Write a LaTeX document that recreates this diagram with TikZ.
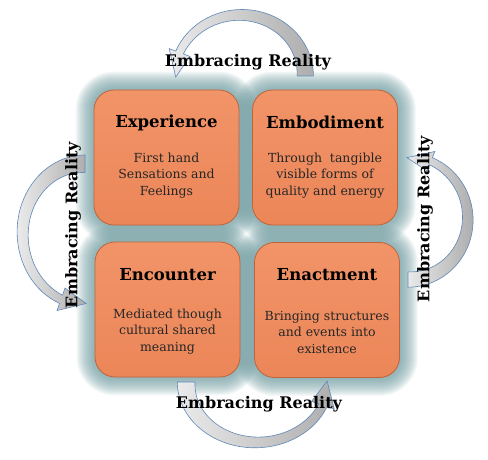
\documentclass[tikz,border=0pt]{standalone}
\usepackage{fontspec}
\setmainfont{DejaVu Serif}
\usetikzlibrary{backgrounds}
\definecolor{boxorange}{RGB}{236,134,88}
\definecolor{boxlight}{RGB}{241,148,104}
\definecolor{boxedge}{RGB}{190,100,60}
\definecolor{glowteal}{RGB}{112,158,162}
\definecolor{arrowline}{RGB}{95,135,185}

%curved block arrow, tail at angle 0, head at the far end
\newcommand{\realityarrow}[1]{%
\begin{scope}[#1]
\draw[arrowline, line width=0.6pt, left color=black!8, right color=black!32]
 (0:54pt) -- (0:70pt) arc[start angle=0, end angle=158, radius=70pt]
 -- (158:77pt) -- (181:65pt) -- (158:55pt) -- (158:62pt)
 -- plot[domain=158:0, samples=40] ({\x}:{54pt+8pt*\x/158}) -- cycle;
\end{scope}}

\tikzset{
 box/.style={draw=boxedge, line width=0.8pt, top color=boxlight, bottom color=boxorange,
  rounded corners=20pt, minimum width=145pt, minimum height=135pt, inner sep=0pt},
 boxtitle/.style={font=\bfseries\fontsize{16.5}{19}\selectfont, text=black},
 boxtext/.style={font=\fontsize{12.5}{16.5}\selectfont, align=center, text=black!85},
 reallabel/.style={font=\bfseries\fontsize{16}{18}\selectfont, text=black}
}

\begin{document}
\begin{tikzpicture}[x=1pt, y=1pt]
\useasboundingbox (0,0) rectangle (488,459);

%arrows round the square
\realityarrow{shift={(242,383)}, xscale=1.02, yscale=0.95}
\realityarrow{shift={(85,227)}, rotate=90, xscale=1.1, yscale=0.97}
\realityarrow{shift={(408,239)}, rotate=-90, xscale=0.96, yscale=0.93}
\realityarrow{shift={(255,77)}, rotate=180, xscale=1.11, yscale=0.94}

%the four boxes
\node[box] (exp) at (166.5,301.5) {};
\node[box] (emb) at (325,301.5) {};
\node[box] (enc) at (167.5,149.5) {};
\node[box] (ena) at (327,149) {};

\node[boxtitle] (exp-t) at ([yshift=-33pt]exp.north) {Experience};
\node[boxtitle] (emb-t) at ([yshift=-33pt]emb.north) {Embodiment};
\node[boxtitle] (enc-t) at ([yshift=-33pt]enc.north) {Encounter};
\node[boxtitle] (ena-t) at ([yshift=-33pt]ena.north) {Enactment};

\node[boxtext] (exp-b) at ([yshift=-86pt]exp.north) {First hand\\Sensations and\\Feelings};
\node[boxtext] (emb-b) at ([yshift=-86pt]emb.north) {Through~ tangible\\visible forms of\\quality and energy};
\node[boxtext] (enc-b) at ([yshift=-90pt]enc.north) {Mediated though\\cultural shared\\meaning};
\node[boxtext] (ena-b) at ([yshift=-90pt]ena.north) {Bringing structures\\and events into\\existence};

%labels
\node[reallabel] (lab-top) at (248,397) {Embracing Reality};
\node[reallabel] (lab-bot) at (259,55) {Embracing Reality};
\node[reallabel, rotate=90] (lab-left) at (73,234) {Embracing Reality};
\node[reallabel, rotate=90] (lab-right) at (425,240) {Embracing Reality};

%glow behind the boxes
\begin{pgfonlayer}{background}
\fill[white] (0,0) rectangle (488,459);
\foreach \b in {exp,emb,enc,ena}{
 \foreach \k in {1,...,18}{
  \pgfmathsetmacro\rc{20+\k}
  \fill[glowteal, opacity=0.065, rounded corners=\rc pt] ([shift={(-\k,-\k)}]\b.south west) rectangle ([shift={(\k,\k)}]\b.north east);
 }
}
\end{pgfonlayer}
\end{tikzpicture}
\end{document}
